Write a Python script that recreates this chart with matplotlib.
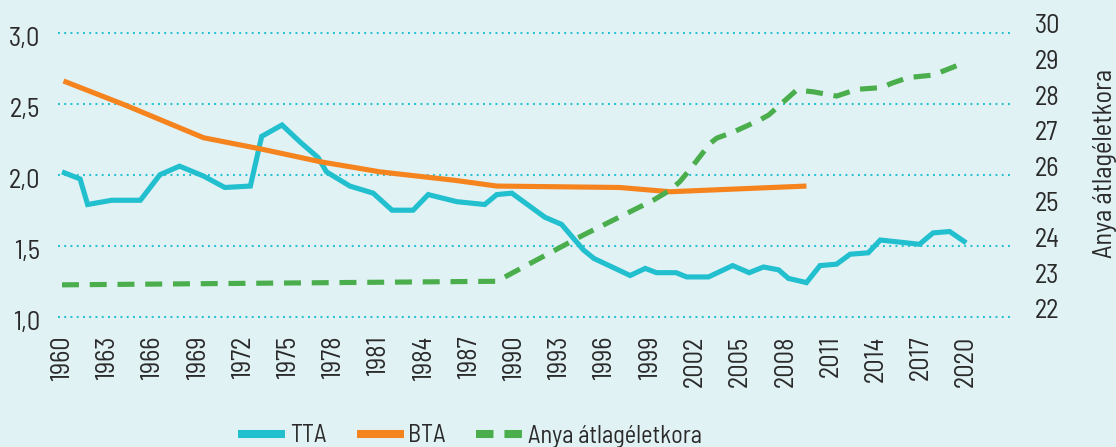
import matplotlib
matplotlib.use("Agg")
import matplotlib.pyplot as plt
import matplotlib.transforms as mtransforms

# ---------------- data ----------------
tta_year = [1960.0, 1961.2, 1961.7, 1963.3, 1965.2, 1966.5, 1967.8, 1969.4, 1970.8, 1972.5,
            1973.25, 1974.6, 1975.8, 1977.0, 1977.55, 1979.1, 1980.65, 1981.9, 1983.3, 1984.3,
            1986.2, 1988.05, 1988.85, 1989.85, 1992.05, 1993.15, 1994.6, 1995.3, 1997.7, 1998.7,
            1999.45, 2000.75, 2001.45, 2002.9, 2004.5, 2005.6, 2006.55, 2007.55, 2008.2, 2009.4,
            2010.3, 2011.4, 2012.3, 2013.5, 2014.3, 2016.9, 2017.8, 2018.9, 2020.0]
tta_value = [2.02, 1.97, 1.79, 1.82, 1.82, 2.00, 2.06, 1.99, 1.91, 1.92,
             2.27, 2.35, 2.23, 2.12, 2.02, 1.92, 1.87, 1.75, 1.75, 1.86,
             1.81, 1.79, 1.86, 1.87, 1.70, 1.65, 1.47, 1.41, 1.29, 1.34,
             1.31, 1.31, 1.28, 1.28, 1.36, 1.31, 1.35, 1.33, 1.27, 1.24,
             1.36, 1.37, 1.44, 1.45, 1.54, 1.51, 1.59, 1.60, 1.52]

bta_year = [1960.1, 1964.2, 1969.4, 1973.25, 1977.2, 1979.45, 1981.1, 1986.1, 1988.85,
            1997.0, 2000.35, 2009.4]
bta_value = [2.66, 2.49, 2.26, 2.18, 2.09, 2.05, 2.02, 1.96, 1.92, 1.91, 1.88, 1.92]

age_year = [1960.0, 1988.85, 1994.6, 1999.25, 2000.35, 2001.0, 2001.65, 2003.0, 2003.45,
            2004.55, 2006.3, 2006.9, 2008.75, 2009.85, 2011.4, 2012.75, 2014.4, 2015.05,
            2016.15, 2017.8, 2019.35, 2020.0]
age_value = [22.67, 22.77, 24.07, 25.05, 25.33, 25.57, 25.90, 26.64, 26.79,
             26.96, 27.30, 27.44, 28.14, 28.09, 27.97, 28.16, 28.21, 28.33,
             28.49, 28.56, 28.82, 28.93]

x_ticks = list(range(1960, 2021, 3))
left_ticks = [1.0, 1.5, 2.0, 2.5, 3.0]
left_labels = ["1,0", "1,5", "2,0", "2,5", "3,0"]
right_ticks = [22, 23, 24, 25, 26, 27, 28, 29, 30]

series_names = ["TTA", "BTA", "Anya átlagéletkora"]
right_label = "Anya átlagéletkora"

# ---------------- style ----------------
BG = "#e1f2f5"
C_TTA = "#22bfcf"
C_BTA = "#f5841f"
C_AGE = "#4aae4c"
C_GRID = "#22c0d0"
C_TXT = "#2a2a2a"
FONT = ["Barlow Semi Condensed", "Roboto Condensed", "DejaVu Sans"]
plt.rcParams["font.family"] = FONT
FS = 19
FS_LEG = 17.5

W, H = 1116, 447
fig = plt.figure(figsize=(W / 100, H / 100), dpi=100, facecolor=BG)

ax_l, ax_r, ax_t, ax_b = 58, 1010, 15, 325
ax = fig.add_axes([ax_l / W, 1 - ax_b / H, (ax_r - ax_l) / W, (ax_b - ax_t) / H])
ax.set_facecolor(BG)
ax2 = ax.twinx()

# x scale: 1960 at px 62, 15.07 px per year
pxy = 15.07
ax.set_xlim(1960 - (62 - ax_l) / pxy, 1960 + (ax_r - 62) / pxy)

# left scale: 1.0 at px 316.7, 3.0 at px 32.7
ppl = 142.0
ax.set_ylim(1.0 - (ax_b - 316.7) / ppl, 3.0 + (32.7 - ax_t) / ppl)
# right scale: 22 at px 308.7, 30 at px 23.8
ppr = (308.7 - 23.8) / 8
ax2.set_ylim(22 - (ax_b - 308.7) / ppr, 30 + (23.8 - ax_t) / ppr)

lw = 3.7
l1, = ax.plot(tta_year, tta_value, color=C_TTA, lw=lw, solid_joinstyle="miter",
              solid_capstyle="butt", label=series_names[0], zorder=3)
l2, = ax.plot(bta_year, bta_value, color=C_BTA, lw=lw, solid_capstyle="butt",
              label=series_names[1], zorder=3)
l3, = ax2.plot(age_year, age_value, color=C_AGE, lw=lw, dashes=(3.3, 2.1),
               dash_capstyle="butt", label=series_names[2], zorder=3)

# grid
for v in left_ticks:
    ax.axhline(v, color=C_GRID, lw=1.5, dashes=(0.9, 2.1), zorder=1)

for a in (ax, ax2):
    for s in a.spines.values():
        s.set_visible(False)

ax.set_yticks(left_ticks)
ax.set_yticklabels(left_labels)
ax.tick_params(axis="y", length=0, pad=13, labelsize=FS, labelcolor=C_TXT)
offset = mtransforms.ScaledTranslation(0, -0.04, fig.dpi_scale_trans)
for lbl in ax.get_yticklabels():
    lbl.set_transform(lbl.get_transform() + offset)

ax.set_xticks(x_ticks)
ax.set_xticklabels([str(y) for y in x_ticks], rotation=90)
ax.tick_params(axis="x", length=0, pad=7.5, labelsize=FS, labelcolor=C_TXT)

ax2.set_yticks(right_ticks)
ax2.set_yticklabels([str(v) for v in right_ticks])
ax2.tick_params(axis="y", length=0, pad=18, labelsize=FS, labelcolor=C_TXT)
ax2.set_ylabel(right_label, fontsize=FS, color=C_TXT, va="center", ha="center")
ax2.yaxis.set_label_coords((1105 - ax_l) / (ax_r - ax_l), (ax_b - 164) / (ax_b - ax_t))

leg = fig.legend(handles=[l1, l2, l3], loc="center", ncol=3, frameon=False,
                 bbox_to_anchor=(470 / W, 1 - 436 / H), fontsize=FS_LEG,
                 handlelength=1.95, handletextpad=0.18, columnspacing=1.25,
                 labelcolor=C_TXT)
for h in leg.legend_handles:
    h.set_linewidth(5.8)
leg.legend_handles[2].set_dashes((2.17, 1.36))

fig.savefig("out.png", dpi=100, facecolor=BG)
